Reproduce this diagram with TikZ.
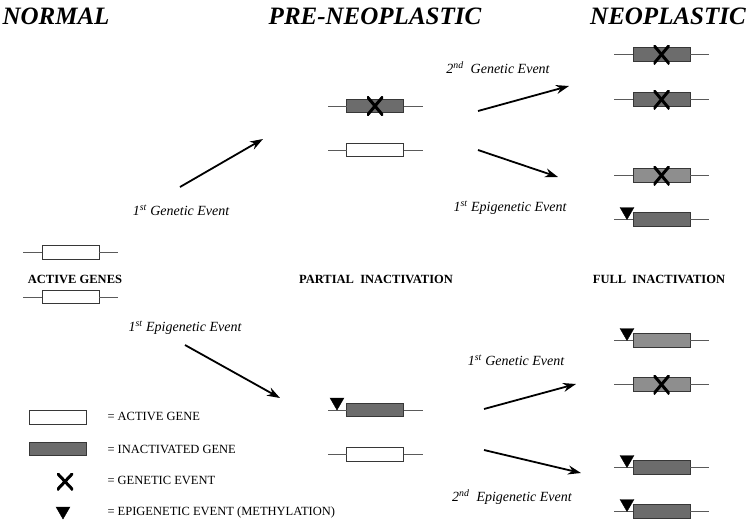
\documentclass[tikz,border=0pt]{standalone}
\usepackage{fontspec}
\setmainfont{Liberation Serif}
\usetikzlibrary{arrows.meta,shapes.geometric}
\definecolor{darkgene}{RGB}{108,108,108}
\definecolor{lightgene}{RGB}{142,142,142}
\definecolor{boxedge}{RGB}{55,55,55}
\definecolor{wireline}{RGB}{90,90,90}
\tikzset{
  genebox/.style={draw=boxedge, line width=0.8pt, minimum width=57pt, minimum height=13.5pt, inner sep=0pt, outer sep=0pt},
  geneline/.style={draw=wireline, line width=0.8pt},
  methyl/.style={regular polygon, regular polygon sides=3, shape border rotate=180, fill=black, draw=black, minimum size=16pt, inner sep=0pt},
  xmark/.style={minimum width=16pt, minimum height=19pt, inner sep=0pt, path picture={
      \draw[line width=3pt, black] (path picture bounding box.north west) -- (path picture bounding box.south east);
      \draw[line width=3pt, black] (path picture bounding box.north east) -- (path picture bounding box.south west);}},
  title/.style={font=\fontsize{25}{28}\selectfont\bfseries\itshape},
  evlabel/.style={font=\fontsize{14}{16}\selectfont\itshape},
  stage/.style={font=\fontsize{12.5}{14}\selectfont\bfseries},
  legtext/.style={font=\fontsize{12.5}{14}\selectfont, anchor=west},
  arr/.style={line width=1.8pt, -{Stealth[length=13pt,width=9pt]}}
}
\newcommand{\mygene}[4]{%
  \node[genebox, fill=#4] (#1) at (#2,#3) {};
  \draw[geneline] (#1.west) -- ++(-19,0);
  \draw[geneline] (#1.east) -- ++(19,0);
}
\begin{document}
\begin{tikzpicture}[x=1pt,y=-1pt]
\useasboundingbox (0,0) rectangle (750,523);
% titles
\node[title] (tnormal) at (56,16) {NORMAL};
\node[title] (tpre) at (375,16) {PRE-NEOPLASTIC};
\node[title] (tneo) at (668,16) {NEOPLASTIC};
% normal
\mygene{n1}{70.5}{252.5}{white}
\mygene{n2}{70.5}{297}{white}
\node[stage] (lactive) at (75,279) {ACTIVE GENES};
% pre-neoplastic
\mygene{p1}{375}{106}{darkgene}
\node[xmark] (p1x) at (p1.center) {};
\mygene{p2}{375}{150}{white}
\node[stage] (lpartial) at (376,279) {PARTIAL\ \ INACTIVATION};
\mygene{p3}{375}{410}{darkgene}
\node[methyl] (p3m) at (337,402) {};
\mygene{p4}{375}{454.5}{white}
% neoplastic
\mygene{q1}{661.5}{54.5}{darkgene}
\node[xmark] (q1x) at (q1.center) {};
\mygene{q2}{661.5}{99.5}{darkgene}
\node[xmark] (q2x) at (q2.center) {};
\mygene{q3}{661.5}{175.5}{lightgene}
\node[xmark] (q3x) at (q3.center) {};
\mygene{q4}{661.5}{219.5}{darkgene}
\node[methyl] (q4m) at (627,211.5) {};
\node[stage] (lfull) at (659,279) {FULL\ \ INACTIVATION};
\mygene{q5}{661.5}{340.5}{lightgene}
\node[methyl] (q5m) at (627,332.5) {};
\mygene{q6}{661.5}{384.5}{lightgene}
\node[xmark] (q6x) at (q6.center) {};
\mygene{q7}{661.5}{467.5}{darkgene}
\node[methyl] (q7m) at (627,459.5) {};
\mygene{q8}{661.5}{511.5}{darkgene}
\node[methyl] (q8m) at (627,503.5) {};
% arrows
\coordinate (a1s) at (180,187); \coordinate (a1e) at (263,139);
\coordinate (a2s) at (478,111); \coordinate (a2e) at (569,86);
\coordinate (a3s) at (478,150); \coordinate (a3e) at (558,177);
\coordinate (a4s) at (185,345); \coordinate (a4e) at (280,398);
\coordinate (a5s) at (484,409); \coordinate (a5e) at (576,384);
\coordinate (a6s) at (484,450); \coordinate (a6e) at (581,473);
\draw[arr] (a1s) -- (a1e);
\draw[arr] (a2s) -- (a2e);
\draw[arr] (a3s) -- (a3e);
\draw[arr] (a4s) -- (a4e);
\draw[arr] (a5s) -- (a5e);
\draw[arr] (a6s) -- (a6e);
% event labels
\node[evlabel] (e1) at (181,210) {1\textsuperscript{st} Genetic Event};
\node[evlabel] (e2) at (498,68) {2\textsuperscript{nd}\ \ Genetic Event};
\node[evlabel] (e3) at (510,208) {1\textsuperscript{st} Epigenetic Event};
\node[evlabel] (e4) at (185,328) {1\textsuperscript{st} Epigenetic Event};
\node[evlabel] (e5) at (516,360) {1\textsuperscript{st} Genetic Event};
\node[evlabel] (e6) at (512,497) {2\textsuperscript{nd}\ \ Epigenetic Event};
% legend
\node[genebox, fill=white] (lg1) at (58,417.5) {};
\node[genebox, fill=darkgene] (lg2) at (58,449) {};
\node[xmark, minimum height=17pt] (lg3) at (65,481.5) {};
\node[methyl] (lg4) at (63,511) {};
\node[legtext] (lt1) at (104,416) {= ACTIVE GENE};
\node[legtext] (lt2) at (104,449) {= INACTIVATED GENE};
\node[legtext] (lt3) at (104,480) {= GENETIC EVENT};
\node[legtext] (lt4) at (104,512) {= EPIGENETIC EVENT (METHYLATION)};
\end{tikzpicture}
\end{document}
